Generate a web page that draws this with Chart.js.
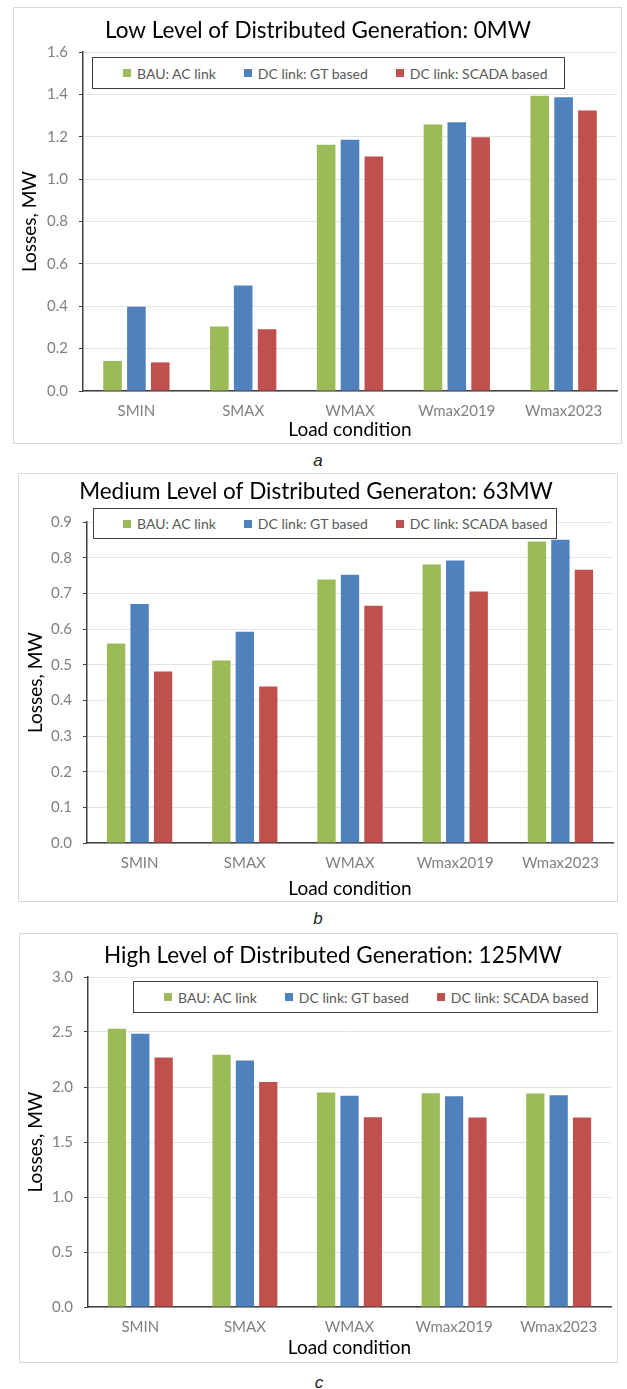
<!DOCTYPE html>
<html><head><meta charset="utf-8">
<script src="https://cdn.jsdelivr.net/npm/chart.js@4.4.1/dist/chart.umd.min.js"></script>
<style>
html,body{margin:0;padding:0;background:#fff;}
body{width:627px;height:1389px;position:relative;overflow:hidden;font-family:Lato,sans-serif;}
.frame{position:absolute;border:1px solid #d9d9d9;box-sizing:border-box;}
canvas{position:absolute;left:0;}
.legend{position:absolute;box-sizing:border-box;border:1.5px solid #404040;background:#fff;display:flex;align-items:center;font-family:Lato,sans-serif;font-size:14px;color:#595959;white-space:nowrap;z-index:2;}
.item{display:flex;align-items:center;margin-right:28px;}
.sw{width:8px;height:8px;margin-right:6px;}
.cap{position:absolute;font-family:"Liberation Sans",Arial,sans-serif;font-style:italic;font-size:17px;color:#222;transform:translate(-50%,-50%);}
</style></head><body>
<script>
// ---- data ----
const categories = ['SMIN', 'SMAX', 'WMAX', 'Wmax2019', 'Wmax2023'];
const seriesNames = ['BAU: AC link', 'DC link: GT based', 'DC link: SCADA based'];
const seriesColors = ['#9BBB59', '#4F81BD', '#C0504D'];

const chartTitles = [
  'Low Level of Distributed Generation: 0MW',
  'Medium Level of Distributed Generaton: 63MW',
  'High Level of Distributed Generation: 125MW'
];
const captions = ['a', 'b', 'c'];
const yAxisTitle = 'Losses, MW';
const xAxisTitle = 'Load condition';

const lowBAU   = [0.142, 0.304, 1.162, 1.258, 1.394];
const lowGT    = [0.398, 0.498, 1.186, 1.269, 1.387];
const lowSCADA = [0.135, 0.291, 1.107, 1.198, 1.324];

const medBAU   = [0.559, 0.512, 0.739, 0.781, 0.845];
const medGT    = [0.670, 0.592, 0.752, 0.792, 0.850];
const medSCADA = [0.481, 0.439, 0.665, 0.705, 0.766];

const highBAU   = [2.530, 2.293, 1.950, 1.944, 1.941];
const highGT    = [2.484, 2.242, 1.920, 1.917, 1.926];
const highSCADA = [2.269, 2.045, 1.726, 1.723, 1.723];

const yMax  = [1.6, 0.9, 3.0];
const yStep = [0.2, 0.1, 0.5];

const allSeries = [
  [lowBAU, lowGT, lowSCADA],
  [medBAU, medGT, medSCADA],
  [highBAU, highGT, highSCADA]
];

// ---- layout (page pixel coordinates) ----
const layouts = [
  {frame:[13,7,622,444],  plot:[83,52,617,391],   titleX:318, titleY:31,  yTitleX:30, xTickY:411,  xTitleY:430,  legend:[92,57,565,89],    legendPad:30, cap:[318,461]},
  {frame:[18,473,618,902],plot:[87,522,613,843],  titleX:316, titleY:492, yTitleX:36, xTickY:863,  xTitleY:889,  legend:[93,508,557,539],  legendPad:29, cap:[318,919]},
  {frame:[19,933,618,1363],plot:[88,977,611,1307],titleX:333, titleY:956, yTitleX:36, xTickY:1327, xTitleY:1348, legend:[133,981,598,1013], legendPad:30, cap:[319,1383]}
];

const PAGE_W = 627;
const TITLE_SIZE = 22.5, TICK_SIZE = 15, AXT_SIZE = 19, LH = 1.2;

const titleShift = {
  id: 'titleShift',
  afterLayout(chart, args, opts) {
    const tb = chart.titleBlock;
    if (!tb) return;
    const cur = (tb.left + tb.right) / 2;
    const d = opts.centerX - cur;
    tb.left += d; tb.right += d;
  }
};

layouts.forEach((L, i) => {
  const [fl, ft, fr, fb] = L.frame;
  const [pl, pt, pr, pb] = L.plot;
  const H = fb - ft;

  const frame = document.createElement('div');
  frame.className = 'frame';
  frame.style.left = fl + 'px'; frame.style.top = ft + 'px';
  frame.style.width = (fr - fl) + 'px'; frame.style.height = (fb - ft) + 'px';
  document.body.appendChild(frame);

  const cv = document.createElement('canvas');
  cv.width = PAGE_W; cv.height = H;
  cv.style.width = PAGE_W + 'px'; cv.style.height = H + 'px';
  cv.style.top = ft + 'px';
  document.body.appendChild(cv);

  // legend (HTML)
  const [ll, lt, lr, lb] = L.legend;
  const lg = document.createElement('div');
  lg.className = 'legend';
  lg.style.left = ll + 'px'; lg.style.top = lt + 'px';
  lg.style.width = (lr - ll) + 'px'; lg.style.height = (lb - lt) + 'px';
  lg.style.paddingLeft = L.legendPad + 'px';
  seriesNames.forEach((n, k) => {
    const it = document.createElement('div'); it.className = 'item';
    const sw = document.createElement('span'); sw.className = 'sw'; sw.style.background = seriesColors[k];
    const tx = document.createElement('span'); tx.textContent = n;
    it.appendChild(sw); it.appendChild(tx); lg.appendChild(it);
  });
  document.body.appendChild(lg);

  const cap = document.createElement('div');
  cap.className = 'cap'; cap.textContent = captions[i];
  cap.style.left = L.cap[0] + 'px'; cap.style.top = L.cap[1] + 'px';
  document.body.appendChild(cap);

  const tLH = TITLE_SIZE * LH;
  const titlePadTop = (L.titleY - ft) - tLH / 2;
  const titlePadBottom = (pt - ft) - tLH - titlePadTop;
  const xScaleH = fb - pb;
  const tickPad = (L.xTickY - pb) - TICK_SIZE * LH / 2;
  const xTitlePadBottom = (fb - L.xTitleY) - AXT_SIZE * LH / 2;
  const yTitlePadTop = L.yTitleX - AXT_SIZE * LH / 2;

  new Chart(cv, {
    type: 'bar',
    data: {
      labels: categories,
      datasets: allSeries[i].map((vals, k) => ({
        label: seriesNames[k],
        data: vals,
        backgroundColor: seriesColors[k],
        borderWidth: 0,
        categoryPercentage: 0.67,
        barPercentage: 0.78
      }))
    },
    options: {
      responsive: false,
      animation: false,
      devicePixelRatio: 1,
      layout: { padding: { left: 0, right: PAGE_W - pr, top: 0, bottom: 0 } },
      plugins: {
        legend: { display: false },
        tooltip: { enabled: false },
        title: {
          display: true,
          text: chartTitles[i],
          color: '#000',
          font: { family: 'Lato', size: TITLE_SIZE, weight: 'normal', lineHeight: LH },
          padding: { top: titlePadTop, bottom: titlePadBottom }
        },
        titleShift: { centerX: L.titleX }
      },
      scales: {
        x: {
          grid: { display: false, drawTicks: false },
          border: { display: true, color: '#404040', width: 1.5 },
          ticks: { color: '#808080', font: { family: 'Lato', size: TICK_SIZE, lineHeight: LH }, padding: tickPad, maxRotation: 0 },
          title: { display: true, text: xAxisTitle, color: '#000', font: { family: 'Lato', size: AXT_SIZE, lineHeight: LH }, padding: { top: 0, bottom: xTitlePadBottom } },
          afterFit(s) { s.height = xScaleH; }
        },
        y: {
          min: 0, max: yMax[i],
          ticks: { stepSize: yStep[i], color: '#808080', font: { family: 'Lato', size: TICK_SIZE, lineHeight: LH }, padding: 11,
                   callback: v => Number(v).toFixed(1) },
          grid: { color: '#e4e4e4', lineWidth: 1, tickColor: '#404040', tickLength: 4, drawTicks: true },
          border: { display: true, color: '#404040', width: 1.5 },
          title: { display: true, text: yAxisTitle, color: '#000', font: { family: 'Lato', size: AXT_SIZE, lineHeight: LH }, padding: { top: yTitlePadTop, bottom: 0 } },
          afterFit(s) { s.width = pl; }
        }
      }
    },
    plugins: [titleShift]
  });
});
</script>
</body></html>
